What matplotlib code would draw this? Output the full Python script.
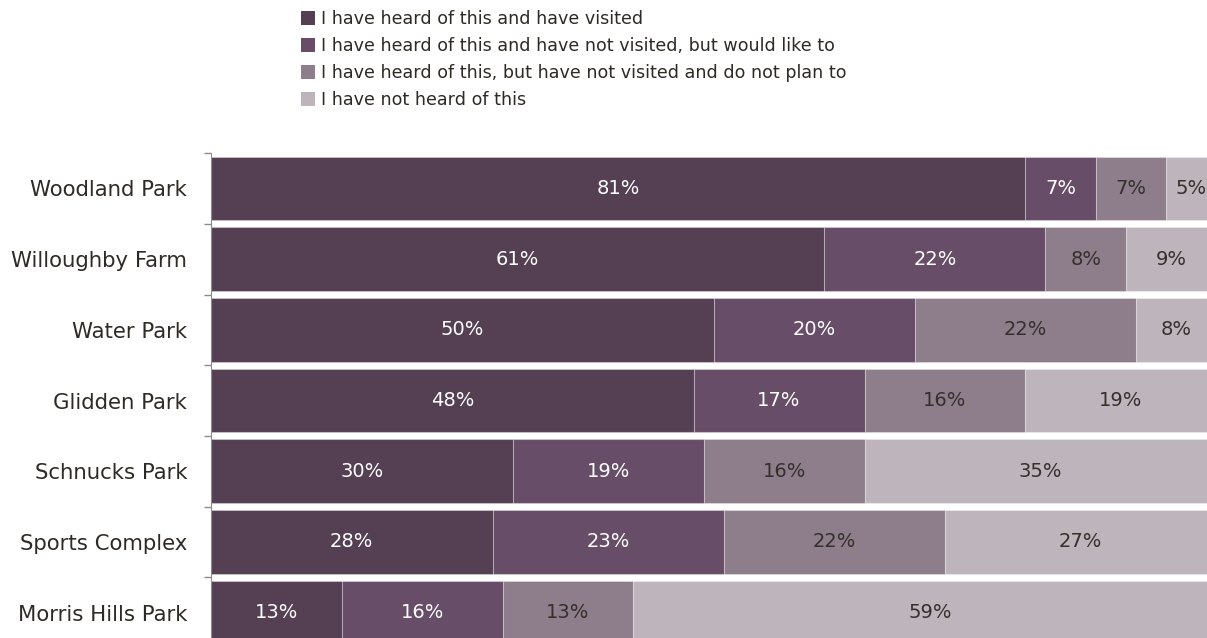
import matplotlib
matplotlib.use("Agg")
import matplotlib.pyplot as plt
from matplotlib.patches import Patch
import numpy as np

parks = ["Woodland Park", "Willoughby Farm", "Water Park", "Glidden Park",
         "Schnucks Park", "Sports Complex", "Morris Hills Park"]
series_names = [
    "I have heard of this and have visited",
    "I have heard of this and have not visited, but would like to",
    "I have heard of this, but have not visited and do not plan to",
    "I have not heard of this",
]
visited = [81, 61, 50, 48, 30, 28, 13]
would_like = [7, 22, 20, 17, 19, 23, 16]
no_plan = [7, 8, 22, 16, 16, 22, 13]
not_heard = [5, 9, 8, 19, 35, 27, 59]

colors = ["#553f53", "#674d67", "#8e7d8b", "#bdb4bc"]
text_colors = ["white", "white", "#35302c", "#35302c"]
dark = "#2e2a26"

plt.rcParams['font.family'] = ['DejaVu Sans']

fig = plt.figure(figsize=(12.07, 6.38), dpi=100)
ax = fig.add_axes([0.1748, -0.0157, 0.833, 0.7757])

y = np.arange(len(parks))
left = np.zeros(len(parks))
for vals, col, tcol in zip([visited, would_like, no_plan, not_heard], colors, text_colors):
    vals = np.array(vals, dtype=float)
    ax.barh(y, vals, left=left, height=0.9, color=col,
            edgecolor=(1, 1, 1, 0.3), linewidth=0.8)
    for yi, l, v in zip(y, left, vals):
        ax.text(l + v / 2, yi, f"{v:.0f}%", ha="center", va="center",
                color=tcol, fontsize=14)
    left += vals

ax.set_xlim(0, 100)
ax.set_ylim(len(parks) - 0.5, -0.5)
ax.set_yticks(y)
ax.set_yticklabels(parks, fontsize=15.3, color=dark)
ax.tick_params(axis="y", which="major", length=0, pad=17)
ax.set_yticks(np.arange(len(parks) + 1) - 0.5, minor=True)
ax.tick_params(axis="y", which="minor", length=5, color="#8c8c8c", width=1)
ax.set_xticks([])
for s in ["top", "right", "bottom"]:
    ax.spines[s].set_visible(False)
ax.spines["left"].set_color("#8c8c8c")

handles = [Patch(facecolor=c, edgecolor="none") for c in colors]
fig.legend(handles, series_names, loc="upper left", bbox_to_anchor=(0.241, 1.0),
           frameon=False, fontsize=12.6, handlelength=0.85, handleheight=0.85,
           handletextpad=0.3, labelspacing=0.52, borderaxespad=0.15,
           labelcolor=dark)

fig.savefig("out.png", dpi=100)
